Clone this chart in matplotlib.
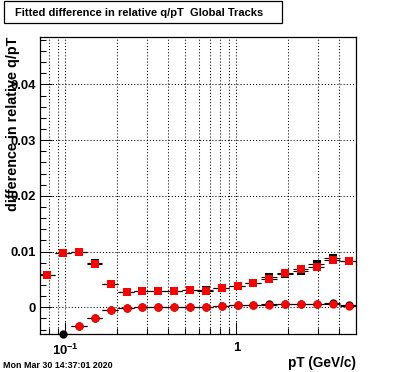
import numpy as np
import matplotlib
matplotlib.use("Agg")
import matplotlib.pyplot as plt
from matplotlib.patches import Rectangle
from matplotlib.ticker import FixedLocator, NullFormatter

# ---------------- data ----------------
bin_edges = [0.0700, 0.0867, 0.1073, 0.1328, 0.1644, 0.2035, 0.2519, 0.3119,
             0.3861, 0.4779, 0.5917, 0.7324, 0.9067, 1.1224, 1.3895, 1.7201,
             2.1294, 2.6360, 3.2632, 4.0396, 5.0000]

black_squares = [0.0058, 0.0097, 0.0099, 0.0080, 0.0042, 0.0027, 0.0029, 0.0029,
                 0.0029, 0.0031, 0.0031, 0.0035, 0.0039, 0.0044, 0.0055, 0.0059,
                 0.0065, 0.0078, 0.0089, 0.0083]
black_circles = [np.nan, -0.0048, -0.0034, -0.0020, -0.0005, -0.0002, 0.00005, 0.00005,
                 0.00005, 0.00005, 0.00005, 0.00023, 0.0004, 0.00036, 0.0006, 0.00054,
                 0.00054, 0.00054, 0.00068, 0.00047]
red_squares = [0.0058, 0.0097, 0.0099, 0.0078, 0.0042, 0.0027, 0.0029, 0.0029,
               0.0029, 0.0031, 0.0030, 0.0035, 0.0039, 0.0044, 0.0051, 0.0061,
               0.0068, 0.0073, 0.0084, 0.0083]
red_circles = [np.nan, np.nan, -0.0034, -0.0020, -0.0005, -0.0002, 0.00005, 0.00005,
               0.00005, 0.00005, 0.00005, 0.00023, 0.0004, 0.00036, 0.0004, 0.00054,
               0.00054, 0.00054, 0.0006, 0.00018]

title = "Fitted difference in relative q/pT  Global Tracks"
xlabel = "pT (GeV/c)"
ylabel = "difference in relative q/pT"
datestamp = "Mon Mar 30 14:37:01 2020"
x_major = [0.1, 1.0]
x_major_labels = [r"$10^{-1}$", "1"]
x_minor = [0.08, 0.09, 0.2, 0.3, 0.4, 0.5, 0.6, 0.7, 0.8, 0.9, 2, 3, 4]
y_major = [0.0, 0.01, 0.02, 0.03, 0.04]
y_major_labels = ["0", "0.01", "0.02", "0.03", "0.04"]

# ---------------- style ----------------
plt.rcParams['font.family'] = ['Liberation Sans', 'DejaVu Sans']
plt.rcParams['font.weight'] = 'bold'
plt.rcParams['mathtext.fontset'] = 'custom'
plt.rcParams['mathtext.rm'] = 'Liberation Sans:bold'
plt.rcParams['mathtext.it'] = 'Liberation Sans:bold'
plt.rcParams['mathtext.bf'] = 'Liberation Sans:bold'
plt.rcParams['mathtext.default'] = 'rm'

W, H = 396, 372
fig = plt.figure(figsize=(W / 100, H / 100), dpi=100)
fig.patch.set_facecolor('white')

L, R, T, B = 40, 356, 37, 334
ax = fig.add_axes([L / W, 1 - B / H, (R - L) / W, (B - T) / H])
ax.set_xscale('log')
ax.set_xlim(0.0710, 5.0)
ax.set_ylim(-0.0048, 0.0485)

edges = np.array(bin_edges)
centers = 0.5 * (edges[:-1] + edges[1:])
xerr = np.vstack([centers - edges[:-1], edges[1:] - centers])

lw = 0.8

def draw(vals, marker, color, ms, z):
    v = np.array(vals, dtype=float)
    ax.errorbar(centers, v, xerr=xerr, fmt='none', ecolor='black',
                elinewidth=lw, capsize=0, zorder=z, clip_on=True)
    ax.plot(centers, v, linestyle='none', marker=marker, markersize=ms,
            markerfacecolor=color, markeredgecolor=color, markeredgewidth=0,
            zorder=z + 0.5, clip_on=False)

draw(black_squares, 's', 'black', 5.4, 3)
draw(black_circles, 'o', 'black', 6.0, 3)
draw(red_squares, 's', '#ff0000', 5.4, 5)
draw(red_circles, 'o', '#ff0000', 6.0, 5)

# ticks
ax.xaxis.set_major_locator(FixedLocator(x_major))
ax.xaxis.set_minor_locator(FixedLocator(x_minor))
ax.set_xticklabels(x_major_labels)
ax.xaxis.set_minor_formatter(NullFormatter())
ax.set_yticks(y_major)
ax.set_yticklabels(y_major_labels)
ax.yaxis.set_minor_locator(FixedLocator(np.arange(-0.004, 0.0486, 0.002)))

ax.tick_params(axis='both', which='both', direction='in', top=False, right=False,
               width=0.75, colors='black')
ax.tick_params(axis='y', which='major', length=8.5, labelsize=9.4, pad=3)
ax.tick_params(axis='y', which='minor', length=4.5)
ax.tick_params(axis='x', which='major', length=8.5, labelsize=9.4, pad=6)
ax.tick_params(axis='x', which='minor', length=4.5)

# grids
grid_style = dict(color='black', linestyle=(0, (1, 2)), linewidth=0.75, zorder=1)
for xv in x_major + x_minor:
    ax.axvline(xv, **grid_style)
for yv in y_major:
    ax.axhline(yv, **grid_style)

for s in ax.spines.values():
    s.set_linewidth(0.9)
    s.set_color('black')

# title box
fig.patches.append(Rectangle((3.5 / W, 1 - 22.5 / H), 278 / W, 21.5 / H,
                             transform=fig.transFigure, fill=True,
                             facecolor='white', edgecolor='black', linewidth=0.9))
fig.text(139.5 / W, 1 - 12.5 / H, title, ha='center', va='center', fontsize=8.0,
         fontweight='bold')

# axis labels
fig.text(356 / W, 1 - 363 / H, xlabel, ha='right', va='center', fontsize=9.8,
         fontweight='bold')
fig.text(13.5 / W, 1 - 37 / H, ylabel, ha='center', va='top', rotation=90,
         fontsize=10.4, fontweight='bold')
fig.text(3 / W, 1 - 365.5 / H, datestamp, ha='left', va='center', fontsize=6.4,
         fontweight='bold')

fig.savefig('out.png', dpi=100)
